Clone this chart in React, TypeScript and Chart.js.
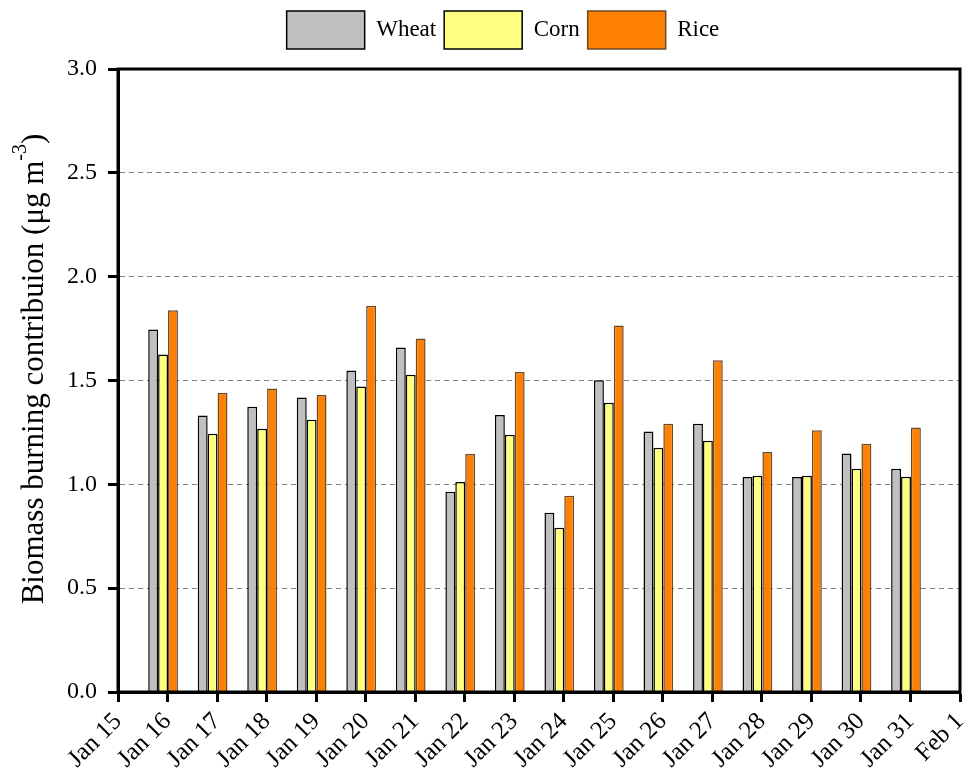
import React, { useEffect, useRef } from 'react';
import { Chart, registerables } from 'chart.js';

Chart.register(...registerables);

const FONT = '"Liberation Serif", "Times New Roman", serif';

const tickLabels = [
  'Jan 15', 'Jan 16', 'Jan 17', 'Jan 18', 'Jan 19', 'Jan 20', 'Jan 21', 'Jan 22', 'Jan 23',
  'Jan 24', 'Jan 25', 'Jan 26', 'Jan 27', 'Jan 28', 'Jan 29', 'Jan 30', 'Jan 31', 'Feb 1',
];
const days = [16, 17, 18, 19, 20, 21, 22, 23, 24, 25, 26, 27, 28, 29, 30, 31];
const wheat = [1.745, 1.331, 1.374, 1.418, 1.548, 1.659, 0.964, 1.334, 0.863, 1.501, 1.254, 1.292, 1.035, 1.035, 1.148, 1.075];
const corn = [1.625, 1.244, 1.268, 1.311, 1.471, 1.528, 1.011, 1.239, 0.791, 1.393, 1.176, 1.210, 1.041, 1.041, 1.075, 1.037];
const rice = [1.838, 1.440, 1.461, 1.430, 1.860, 1.702, 1.146, 1.541, 0.945, 1.765, 1.292, 1.598, 1.156, 1.260, 1.196, 1.274];
const yTicks = [0, 0.5, 1.0, 1.5, 2.0, 2.5, 3.0];

const toPoints = (vals: number[]) => vals.map((v, i) => ({ x: days[i], y: v }));

const framePlugin = {
  id: 'frame',
  afterDatasetsDraw(chart: any) {
    const { ctx, chartArea } = chart;
    const { left, right, top, bottom } = chartArea;
    ctx.save();
    ctx.strokeStyle = '#000';
    ctx.lineWidth = 3;
    ctx.beginPath();
    ctx.moveTo(left, top);
    ctx.lineTo(right, top);
    ctx.lineTo(right, bottom);
    ctx.lineTo(left, bottom);
    ctx.closePath();
    ctx.stroke();
    ctx.restore();
  },
};

// keep the legend at the very top of the canvas
const legendTopPlugin = {
  id: 'legendTop',
  afterLayout(chart: any) {
    const lg = chart.legend;
    if (lg) {
      const h = lg.height;
      lg.top = 3;
      lg.bottom = 3 + h;
    }
  },
};

const yTitlePlugin = {
  id: 'yTitle',
  afterDraw(chart: any) {
    const { ctx } = chart;
    const main = 'Biomass burning contribuion (\u03bcg m';
    const sup = '-3';
    const end = ')';
    ctx.save();
    ctx.fillStyle = '#000';
    ctx.font = `31px ${FONT}`;
    const w1 = ctx.measureText(main).width;
    const w3 = ctx.measureText(end).width;
    ctx.font = `20px ${FONT}`;
    const w2 = ctx.measureText(sup).width;
    const total = w1 + w2 + w3;
    ctx.translate(43, 369);
    ctx.rotate(-Math.PI / 2);
    ctx.textBaseline = 'alphabetic';
    ctx.textAlign = 'left';
    let x = -total / 2;
    ctx.font = `31px ${FONT}`;
    ctx.fillText(main, x, 0);
    x += w1;
    ctx.font = `20px ${FONT}`;
    ctx.fillText(sup, x, -17);
    x += w2;
    ctx.font = `31px ${FONT}`;
    ctx.fillText(end, x, 0);
    ctx.restore();
  },
};

export default function App() {
  const canvasRef = useRef<HTMLCanvasElement | null>(null);

  useEffect(() => {
    if (!canvasRef.current) return;
    const chart = new Chart(canvasRef.current, {
      type: 'bar',
      data: {
        datasets: [
          {
            label: 'Wheat',
            data: toPoints(wheat),
            backgroundColor: '#c0c0c0',
            borderColor: '#000000',
            borderWidth: 1.5,
            xAxisID: 'xb',
            yAxisID: 'y',
          },
          {
            label: 'Corn',
            data: toPoints(corn),
            backgroundColor: '#ffff80',
            borderColor: '#000000',
            borderWidth: 1.5,
            xAxisID: 'xb',
            yAxisID: 'y',
          },
          {
            label: 'Rice',
            data: toPoints(rice),
            backgroundColor: '#ff8000',
            borderColor: '#6b4a2a',
            borderWidth: 1.5,
            xAxisID: 'xb',
            yAxisID: 'y',
          },
        ],
      },
      options: {
        animation: false,
        responsive: true,
        maintainAspectRatio: false,
        layout: { padding: { left: 46, right: 17, top: 3, bottom: 0 } },
        datasets: { bar: { categoryPercentage: 0.6, barPercentage: 1.0 } },
        plugins: {
          legend: {
            position: 'top',
            labels: {
              boxWidth: 78,
              boxHeight: 38,
              padding: 8,
              color: '#000',
              font: { family: FONT, size: 23 },
            },
          },
          tooltip: { enabled: false },
        },
        scales: {
          x: {
            type: 'linear',
            position: 'bottom',
            min: 15,
            max: 32,
            offset: false,
            afterFit: (s: any) => {
              s.height = 85;
              s.paddingLeft = 0;
              s.paddingRight = 0;
            },
            ticks: {
              stepSize: 1,
              autoSkip: false,
              maxRotation: 45,
              minRotation: 45,
              padding: 5,
              color: '#000',
              font: { family: FONT, size: 25 },
              callback: (v: any) => tickLabels[Math.round(Number(v)) - 15] ?? '',
            },
            grid: {
              offset: false,
              drawOnChartArea: false,
              drawTicks: true,
              tickLength: 10,
              tickColor: '#000',
              tickWidth: 3,
            },
            border: { display: true, color: '#000', width: 3 },
          },
          xb: {
            type: 'linear',
            display: false,
            min: 15.09,
            max: 32.09,
            offset: false,
          },
          y: {
            type: 'linear',
            min: 0,
            max: 3,
            afterFit: (s: any) => {
              s.width = 72;
              s.paddingTop = 69;
            },
            afterBuildTicks: (s: any) => { s.ticks = yTicks.map((v) => ({ value: v })); },
            ticks: {
              padding: 11,
              color: '#000',
              font: { family: FONT, size: 24 },
              callback: (v: any) => Number(v).toFixed(1),
            },
            grid: {
              color: (c: any) => {
                const v = c.tick ? c.tick.value : null;
                return v === 0 || v === 3 ? 'rgba(0,0,0,0)' : '#808080';
              },
              lineWidth: 1,
              drawTicks: true,
              tickLength: 10,
              tickColor: '#000',
              tickWidth: 3,
              tickBorderDash: [],
            },
            border: { display: true, color: '#000', width: 3, dash: [5, 4] },
          },
        },
      },
      plugins: [framePlugin, legendTopPlugin, yTitlePlugin],
    } as any);
    return () => chart.destroy();
  }, []);

  return (
    <div style={{ position: 'fixed', left: 0, top: 0, width: 977, height: 777, background: '#fff' }}>
      <canvas ref={canvasRef} />
    </div>
  );
}
